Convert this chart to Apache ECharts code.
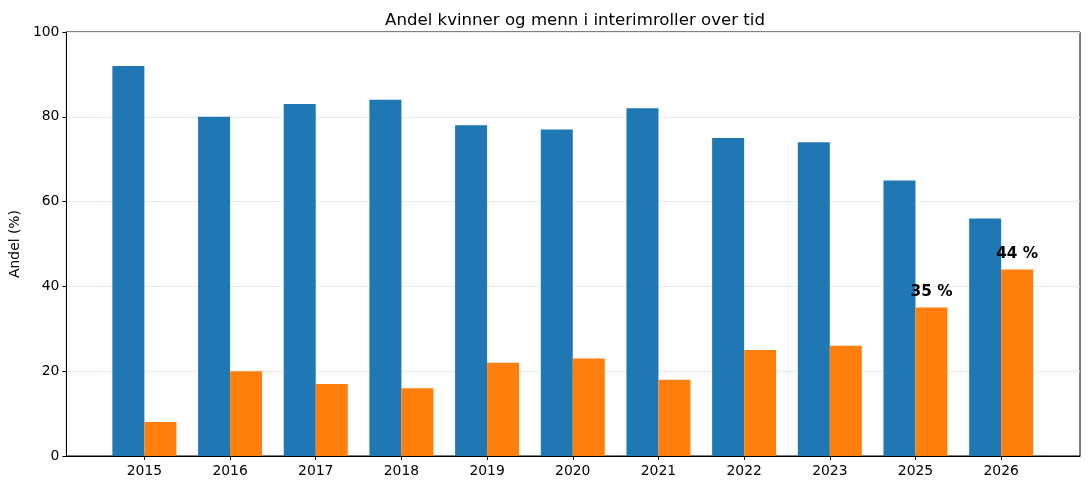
<!DOCTYPE html>
<html>
<head>
<meta charset="utf-8">
<script src="https://cdn.jsdelivr.net/npm/echarts@6/dist/echarts.min.js"></script>
<style>html,body{margin:0;padding:0;background:#fff}#c{width:1089px;height:490px}</style>
</head>
<body>
<div id="c"></div>
<script>
const years = ['2015','2016','2017','2018','2019','2020','2021','2022','2023','2025','2026'];
const menn = [92, 80, 83, 84, 78, 77, 82, 75, 74, 65, 56];
const kvinner = [8, 20, 17, 16, 22, 23, 18, 25, 26, 35, 44];
const annotatedYears = ['2025', '2026'];

const font = 'DejaVu Sans';
const chart = echarts.init(document.getElementById('c'), null, {renderer: 'canvas'});
const idx = years.map((_, i) => i);

chart.setOption({
  animation: false,
  backgroundColor: '#fff',
  title: {
    text: 'Andel kvinner og menn i interimroller over tid',
    left: 570, top: 7, textAlign: 'center',
    textStyle: {fontFamily: font, fontSize: 16.6, fontWeight: 'normal', color: '#000'}
  },
  grid: {left: 66, right: 9, top: 32, bottom: 34, show: true, borderColor: '#000', borderWidth: 1, backgroundColor: 'transparent'},
  xAxis: {
    type: 'value', min: -0.91, max: 10.92,
    splitLine: {show: false},
    axisLine: {show: true, onZero: false, lineStyle: {color: '#000', width: 1}},
    axisTick: {show: true, length: 4, lineStyle: {color: '#000'}, customValues: idx},
    axisLabel: {customValues: idx, margin: 8, color: '#000', fontFamily: font, fontSize: 13.9,
      formatter: v => years[Math.round(v)] || ''}
  },
  yAxis: {
    type: 'value', min: 0, max: 100, interval: 20,
    name: 'Andel (%)', nameLocation: 'middle', nameGap: 42,
    nameTextStyle: {fontFamily: font, fontSize: 13.9, color: '#000'},
    axisLine: {show: true, onZero: false, lineStyle: {color: '#000', width: 1}},
    axisTick: {show: true, length: 4, lineStyle: {color: '#000'}},
    axisLabel: {margin: 7, color: '#000', fontFamily: font, fontSize: 13.9},
    splitLine: {show: true, lineStyle: {color: '#e9e9e9', width: 1}}
  },
  series: [
    {
      name: 'Menn', type: 'bar', barWidth: 32, barGap: '0%',
      itemStyle: {color: '#1f77b4'},
      data: menn.map((v, i) => [i, v])
    },
    {
      name: 'Kvinner', type: 'bar', barWidth: 32, barGap: '0%',
      itemStyle: {color: '#ff7f0e'},
      data: kvinner.map((v, i) => ({
        value: [i, v],
        label: {
          show: annotatedYears.includes(years[i]),
          position: 'top', distance: 8,
          formatter: v + ' %',
          fontFamily: font, fontSize: 15.3, fontWeight: 'bold', color: '#000'
        }
      }))
    }
  ]
});
</script>
</body>
</html>
